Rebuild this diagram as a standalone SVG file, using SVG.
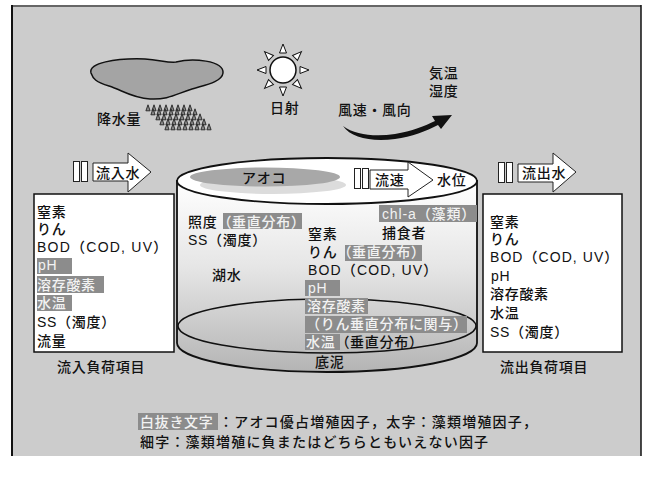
<svg xmlns="http://www.w3.org/2000/svg" xmlns:xlink="http://www.w3.org/1999/xlink" width="652" height="477" viewBox="0 0 652 477">
  <style>
    .t { font-family: "Liberation Sans", "Noto Sans CJK JP", sans-serif; font-size: 14px; font-weight: 500; letter-spacing: 0.7px; fill: #111; }
    .lg { letter-spacing: 1.2px; }
    .w { fill: #f2f2f2; }
    .hl { fill: #8c8c8c; }
    .box { fill: #fff; stroke: #111; stroke-width: 1.5; }
    .blk { fill: #fff; stroke: #222; stroke-width: 1; }
  </style>
  <defs>
    <linearGradient id="bodyGrad" x1="0" y1="180" x2="0" y2="372" gradientUnits="userSpaceOnUse">
      <stop offset="0" stop-color="#ffffff"/>
      <stop offset="0.45" stop-color="#e6e6e6"/>
      <stop offset="1" stop-color="#b4b4b4"/>
    </linearGradient>
    <path id="drop" d="M0,-3.2 L2.1,2.8 L-2.1,2.8 Z" fill="#8a8a8a" stroke="#222" stroke-width="0.9"/>
    <polygon id="ray" points="-3.5,-17 3.5,-17 0,-26" fill="#fff" stroke="#111" stroke-width="1"/>
  </defs>

  <!-- frame -->
  <rect x="0" y="0" width="652" height="477" fill="#fff"/>
  <rect x="12" y="6" width="629" height="450" fill="#cccccc"/>
  <line x1="12" y1="6" x2="641" y2="6" stroke="#666" stroke-width="2"/>
  <line x1="12" y1="5" x2="12" y2="456" stroke="#111" stroke-width="2"/>
  <line x1="641" y1="5" x2="641" y2="456" stroke="#111" stroke-width="1.5"/>

  <!-- weather -->
  <g id="cloud">
    <path d="M91,73 C88,63 115,58 145,59 C160,60 168,63 176,62 C192,58 224,60 223,73 C222,82 205,85 192,89 C176,94 168,100 150,99 C132,98 122,90 109,86 C96,82 93,79 91,73 Z" fill="#a4a4a4" stroke="#111" stroke-width="1.5"/>
  </g>
  <g id="rain">
    <use xlink:href="#drop" x="148" y="108"/><use xlink:href="#drop" x="154" y="108"/><use xlink:href="#drop" x="160" y="108"/><use xlink:href="#drop" x="166" y="108"/><use xlink:href="#drop" x="172" y="108"/><use xlink:href="#drop" x="178" y="108"/><use xlink:href="#drop" x="184" y="108"/><use xlink:href="#drop" x="190" y="108"/>
    <use xlink:href="#drop" x="153" y="112"/><use xlink:href="#drop" x="159" y="112"/><use xlink:href="#drop" x="165" y="112"/><use xlink:href="#drop" x="171" y="112"/><use xlink:href="#drop" x="177" y="112"/><use xlink:href="#drop" x="183" y="112"/><use xlink:href="#drop" x="189" y="112"/><use xlink:href="#drop" x="195" y="112"/>
    <use xlink:href="#drop" x="158" y="117"/><use xlink:href="#drop" x="164" y="117"/><use xlink:href="#drop" x="170" y="117"/><use xlink:href="#drop" x="176" y="117"/><use xlink:href="#drop" x="182" y="117"/><use xlink:href="#drop" x="188" y="117"/><use xlink:href="#drop" x="194" y="117"/><use xlink:href="#drop" x="200" y="117"/>
    <use xlink:href="#drop" x="162" y="122"/><use xlink:href="#drop" x="168" y="122"/><use xlink:href="#drop" x="174" y="122"/><use xlink:href="#drop" x="180" y="122"/><use xlink:href="#drop" x="186" y="122"/><use xlink:href="#drop" x="192" y="122"/><use xlink:href="#drop" x="198" y="122"/><use xlink:href="#drop" x="204" y="122"/>
    <use xlink:href="#drop" x="167" y="127"/><use xlink:href="#drop" x="173" y="127"/><use xlink:href="#drop" x="179" y="127"/><use xlink:href="#drop" x="185" y="127"/><use xlink:href="#drop" x="191" y="127"/><use xlink:href="#drop" x="197" y="127"/><use xlink:href="#drop" x="203" y="127"/><use xlink:href="#drop" x="209" y="127"/>
  </g>
  <text class="t" x="97" y="124">降水量</text>

  <g id="sun" transform="translate(283,70)">
    <use xlink:href="#ray" transform="rotate(0)"/>
    <use xlink:href="#ray" transform="rotate(45)"/>
    <use xlink:href="#ray" transform="rotate(90)"/>
    <use xlink:href="#ray" transform="rotate(135)"/>
    <use xlink:href="#ray" transform="rotate(180)"/>
    <use xlink:href="#ray" transform="rotate(225)"/>
    <use xlink:href="#ray" transform="rotate(270)"/>
    <use xlink:href="#ray" transform="rotate(315)"/>
    <circle r="13" fill="#fff" stroke="#111" stroke-width="1.5"/>
  </g>
  <text class="t" x="270" y="113">日射</text>

  <g id="wind">
    <path d="M343,126 C355,135 375,137 395,134 C412,131 425,126 435,121 L432,116 L452,115 L441,129 L438,125 C426,131 412,137 395,139 C372,142 351,138 343,126 Z" fill="#111"/>
  </g>
  <text class="t" x="338" y="115">風速・風向</text>
  <text class="t" x="429" y="78">気温</text>
  <text class="t" x="429" y="96">湿度</text>

  <!-- lake cylinder -->
  <g id="lake">
    <path d="M177,181 L177,343 A150,29 0 0 0 477,343 L477,181 Z" fill="url(#bodyGrad)" stroke="#111" stroke-width="1.8"/>
    <ellipse cx="327" cy="326" rx="149" ry="27" fill="none" stroke="#111" stroke-width="1.5"/>
    <ellipse cx="327" cy="181" rx="150" ry="23" fill="#fff" stroke="#111" stroke-width="1.8"/>
    <ellipse cx="273" cy="185" rx="73" ry="9" fill="#dcdcdc"/>
    <ellipse cx="265" cy="177" rx="75" ry="9.5" fill="#a8a8a8"/>
    <text class="t" x="242" y="183">アオコ</text>
  </g>

  <!-- flow arrows -->
  <g id="inflow">
    <rect class="blk" x="73.5" y="161.5" width="6" height="20"/>
    <rect class="blk" x="81.5" y="161.5" width="6" height="20"/>
    <path class="blk" d="M93,163 L128,163 L128,153 L151,172 L128,192 L128,181 L93,181 Z"/>
    <text class="t" x="96" y="178">流入水</text>
  </g>
  <g id="outflow">
    <rect class="blk" x="498.5" y="162.5" width="6" height="20"/>
    <rect class="blk" x="506.5" y="162.5" width="6" height="20"/>
    <path class="blk" d="M518,164 L553,164 L553,153 L576,172 L553,192 L553,182 L518,182 Z"/>
    <text class="t" x="522" y="178">流出水</text>
  </g>
  <g id="current">
    <rect class="blk" x="354.5" y="168.5" width="6" height="20"/>
    <rect class="blk" x="362.5" y="168.5" width="6" height="20"/>
    <path class="blk" d="M370,170 L408,170 L408,162 L433,180 L408,197 L408,189 L370,189 Z"/>
    <text class="t" x="375" y="185">流速</text>
    <text class="t" x="437" y="185">水位</text>
  </g>

  <!-- inflow load box -->
  <g id="inload">
    <rect class="box" x="34" y="194" width="140" height="158"/>
    <rect class="hl" x="37" y="258" width="35" height="16"/>
    <rect class="hl" x="37" y="276" width="67" height="17"/>
    <rect class="hl" x="37" y="295" width="35" height="16"/>
    <text class="t" x="37" y="217">窒素</text>
    <text class="t" x="37" y="234">りん</text>
    <text class="t" x="37" y="252" textLength="131" lengthAdjust="spacing">BOD（COD, UV）</text>
    <text class="t w" x="38" y="270">pH</text>
    <text class="t w" x="37" y="290">溶存酸素</text>
    <text class="t w" x="37" y="308">水温</text>
    <text class="t" x="37" y="327">SS（濁度）</text>
    <text class="t" x="37" y="346">流量</text>
    <text class="t" x="57" y="372">流入負荷項目</text>
  </g>

  <!-- outflow load box -->
  <g id="outload">
    <rect class="box" x="483" y="194" width="139" height="158"/>
    <text class="t" x="490" y="227">窒素</text>
    <text class="t" x="490" y="244">りん</text>
    <text class="t" x="490" y="262" textLength="129" lengthAdjust="spacing">BOD（COD, UV）</text>
    <text class="t" x="491" y="281">pH</text>
    <text class="t" x="490" y="299">溶存酸素</text>
    <text class="t" x="490" y="318">水温</text>
    <text class="t" x="490" y="337">SS（濁度）</text>
    <text class="t" x="500" y="372">流出負荷項目</text>
  </g>

  <!-- lake water items -->
  <g id="water">
    <rect class="hl" x="223" y="213" width="79" height="16"/>
    <rect class="hl" x="379" y="205" width="98" height="17"/>
    <rect class="hl" x="345" y="245" width="77" height="16"/>
    <rect class="hl" x="305" y="280" width="35" height="16"/>
    <rect class="hl" x="305" y="298" width="63" height="16"/>
    <rect class="hl" x="305" y="316" width="162" height="17"/>
    <rect class="hl" x="305" y="334" width="35" height="16"/>
    <text class="t" x="188" y="227">照度<tspan class="w">（垂直分布）</tspan></text>
    <text class="t" x="188" y="245">SS（濁度）</text>
    <text class="t" x="212" y="280">湖水</text>
    <text class="t w" x="382" y="219" textLength="94" lengthAdjust="spacing">chl-a（藻類）</text>
    <text class="t" x="382" y="238">捕食者</text>
    <text class="t" x="308" y="239">窒素</text>
    <text class="t" x="308" y="257">りん<tspan class="w">（垂直分布）</tspan></text>
    <text class="t" x="308" y="275" textLength="130" lengthAdjust="spacing">BOD（COD, UV）</text>
    <text class="t w" x="308" y="293">pH</text>
    <text class="t w" x="307" y="311">溶存酸素</text>
    <text class="t w" x="306" y="329">（りん垂直分布に関与）</text>
    <text class="t" x="306" y="347"><tspan class="w">水温</tspan>（垂直分布）</text>
    <text class="t" x="315" y="367">底泥</text>
  </g>

  <!-- legend -->
  <g id="legend">
    <rect class="hl" x="138" y="413" width="80" height="17"/>
    <text class="t" x="140" y="427"><tspan class="w">白抜き文字</tspan><tspan class="lg" x="219">：アオコ優占増殖因子，太字：藻類増殖因子，</tspan></text>
    <text class="t lg" x="140" y="447">細字：藻類増殖に負またはどちらともいえない因子</text>
  </g>
</svg>
